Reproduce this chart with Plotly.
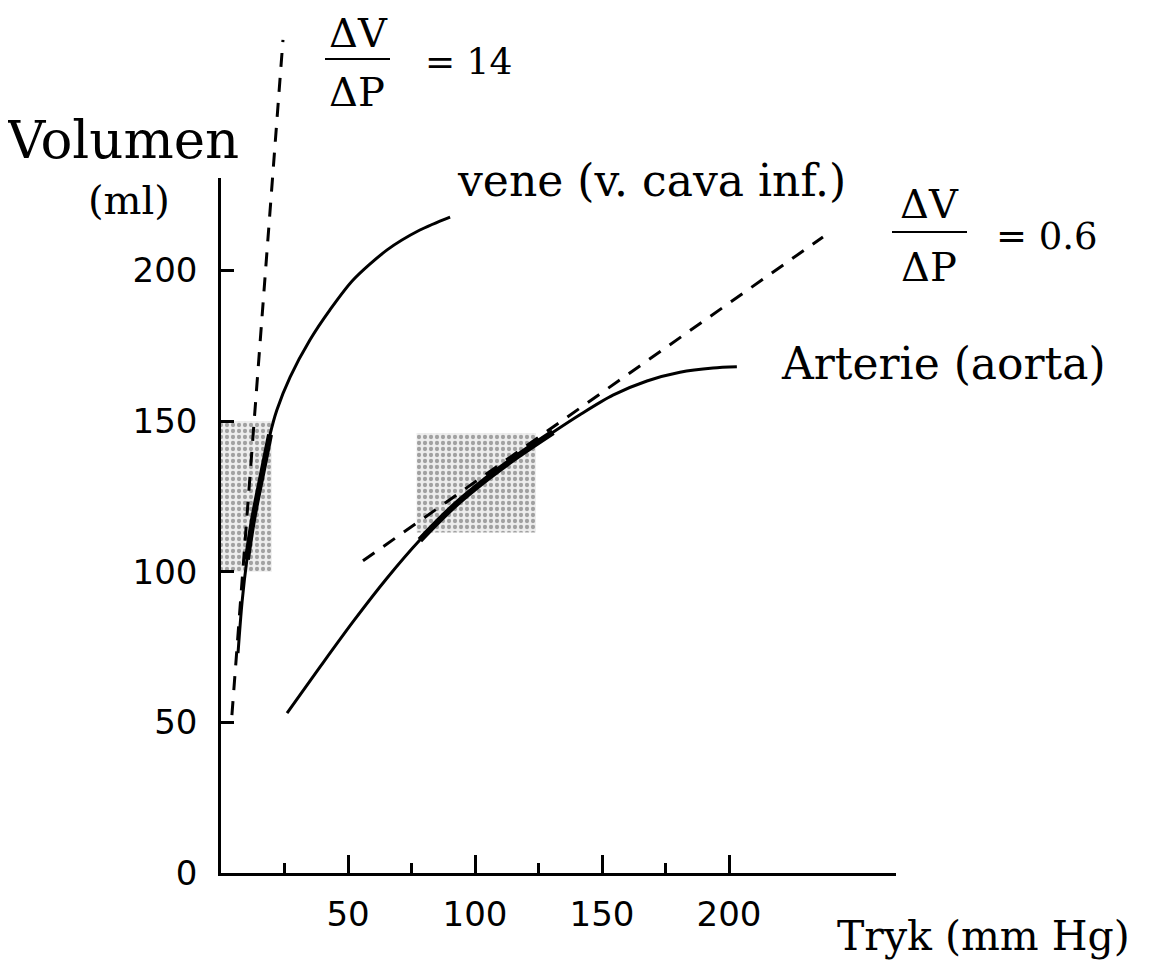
import plotly.graph_objects as go

# page is 1157x972; the html body has an 8px margin, so the figure is 16px smaller
PAGE_W, PAGE_H = 1157, 972
OFF = 8
W, H = PAGE_W - 2 * OFF, PAGE_H - 2 * OFF

# ---- data ----
vene_p = [6.7, 8.3, 10.2, 12.6, 16.5, 19.3, 22.0, 27.2, 35.0, 42.9, 52.0, 65.4, 78.3, 90.2]
vene_v = [73.0, 90.0, 104.0, 117.2, 133.8, 145.5, 153.7, 164.6, 176.9, 186.9, 196.8, 206.8, 213.4, 217.7]
arterie_p = [26.0, 39.0, 52.0, 65.4, 78.3, 91.3, 104.7, 117.3, 130.7, 141.3, 154.3, 167.7, 180.7, 193.7, 203.1]
arterie_v = [53.1, 68.4, 83.4, 97.9, 110.5, 121.5, 130.9, 138.7, 146.3, 152.1, 158.6, 163.3, 166.2, 167.6, 168.0]
vene_tangent_p = [4.3, 24.4]
vene_tangent_v = [52.4, 276.5]
arterie_tangent_p = [55.9, 237.0]
arterie_tangent_v = [103.6, 211.1]
vene_box_p = [0, 20]
vene_box_v = [100, 150]
arterie_box_p = [77, 124]
arterie_box_v = [113, 146]
x_ticks = [50, 100, 150, 200]
x_minor_ticks = [25, 75, 125, 175]
y_ticks = [0, 50, 100, 150, 200]

# ---- geometry (in page pixels) ----
X0_PX, KX = 221.0, 2.54      # page pixel of P=0, px per mmHg
Y0_PX, KY = 873.0, 3.013     # page pixel of V=0, px per ml
X_END_PX, Y_TOP_PX = 896.0, 178.0

def fx(px):  # page px -> paper x
    return (px - OFF) / W

def fy(py):  # page px -> paper y
    return 1 - (py - OFF) / H

SERIF = "DejaVu Serif"
SANS = "DejaVu Sans"
DASH = "14px,11px"

fig = go.Figure()

def box_trace(p, v, xa, ya):
    return go.Scatter(
        x=[p[0], p[1], p[1], p[0], p[0]], y=[v[0], v[0], v[1], v[1], v[0]],
        mode="lines", line=dict(width=0), fill="toself",
        fillcolor="rgba(0,0,0,0)",
        fillpattern=dict(shape=".", fgcolor="#555555", bgcolor="rgba(215,215,215,0.45)",
                         size=6, solidity=0.4),
        xaxis=xa, yaxis=ya, showlegend=False, hoverinfo="skip")

# boxes on the full-page axes (below)
fig.add_trace(box_trace(vene_box_p, vene_box_v, "x", "y"))
fig.add_trace(box_trace(arterie_box_p, arterie_box_v, "x", "y"))

# vein tangent (extends above the axes)
fig.add_trace(go.Scatter(x=vene_tangent_p, y=vene_tangent_v, mode="lines",
                         line=dict(color="black", width=3, dash=DASH),
                         xaxis="x", yaxis="y", showlegend=False, hoverinfo="skip"))

# curves on the visible axes
fig.add_trace(go.Scatter(x=vene_p, y=vene_v, mode="lines",
                         line=dict(color="black", width=3, shape="spline", smoothing=0.8),
                         xaxis="x2", yaxis="y2", name="vene", showlegend=False))
fig.add_trace(go.Scatter(x=arterie_p, y=arterie_v, mode="lines",
                         line=dict(color="black", width=3, shape="spline", smoothing=0.8),
                         xaxis="x2", yaxis="y2", name="arterie", showlegend=False))
fig.add_trace(go.Scatter(x=arterie_tangent_p, y=arterie_tangent_v, mode="lines",
                         line=dict(color="black", width=3, dash=DASH),
                         xaxis="x2", yaxis="y2", showlegend=False, hoverinfo="skip"))

# thickened parts inside the shaded boxes
tv = [(p, v) for p, v in zip(vene_p, vene_v) if vene_box_v[0] <= v <= vene_box_v[1]]
fig.add_trace(go.Scatter(x=[a for a, b in tv], y=[b for a, b in tv], mode="lines",
                         line=dict(color="black", width=6, shape="spline"),
                         xaxis="x2", yaxis="y2", showlegend=False, hoverinfo="skip"))
ta = [(p, v) for p, v in zip(arterie_p, arterie_v) if 78 <= p <= 131]
fig.add_trace(go.Scatter(x=[a for a, b in ta], y=[b for a, b in ta], mode="lines",
                         line=dict(color="black", width=6, shape="spline"),
                         xaxis="x2", yaxis="y2", showlegend=False, hoverinfo="skip"))

# full-figure axes, same scale as the visible axes
x_lo = -(X0_PX - OFF) / KX
x_hi = (OFF + W - X0_PX) / KX
y_hi = (Y0_PX - OFF) / KY
y_lo = -(OFF + H - Y0_PX) / KY

fig.update_layout(
    width=W, height=H,
    margin=dict(l=0, r=0, t=0, b=0, autoexpand=False),
    showlegend=False,
    paper_bgcolor="white", plot_bgcolor="rgba(0,0,0,0)",
    xaxis=dict(domain=[0, 1], range=[x_lo, x_hi], visible=False, fixedrange=True),
    yaxis=dict(domain=[0, 1], range=[y_lo, y_hi], visible=False, fixedrange=True),
    xaxis2=dict(domain=[fx(X0_PX), fx(X_END_PX)], range=[0, (X_END_PX - X0_PX) / KX],
                anchor="y2", showline=True, linecolor="black", linewidth=2.5,
                showgrid=False, zeroline=False, automargin=False,
                tickmode="array", tickvals=x_ticks, ticktext=[str(t) for t in x_ticks],
                ticks="inside", ticklen=18, tickwidth=2.5, tickcolor="black",
                minor=dict(tickmode="array", tickvals=x_minor_ticks, ticks="inside",
                           ticklen=10, tickwidth=2.5, tickcolor="black", showgrid=False),
                tickfont=dict(family=SANS, size=34, color="black"),
                ticklabelstandoff=9),
    yaxis2=dict(domain=[fy(Y0_PX), fy(Y_TOP_PX)],
                range=[0, (Y0_PX - Y_TOP_PX) / KY],
                anchor="x2", showline=True, linecolor="black", linewidth=2.5,
                showgrid=False, zeroline=False, automargin=False,
                tickmode="array", tickvals=y_ticks, ticktext=[str(t) for t in y_ticks],
                ticks="inside", ticklen=13, tickwidth=2.5, tickcolor="black",
                tickfont=dict(family=SANS, size=34, color="black"),
                ticklabelstandoff=14),
)

def ann(text, px, py, size, xanchor="center", family=SERIF):
    fig.add_annotation(text=text, x=fx(px), y=fy(py), xref="paper", yref="paper",
                       xanchor=xanchor, yanchor="middle", showarrow=False,
                       font=dict(family=family, size=size, color="black"))

ann("Volumen", 122, 140, 53)
ann("(ml)", 129, 200, 40)
ann("vene (v. cava inf.)", 455, 181, 44, xanchor="left")
ann("Arterie (aorta)", 779, 363, 44, xanchor="left")
ann("Tryk (mm Hg)", 835, 936, 41, xanchor="left")

# fraction 1
ann("ΔV", 358, 33, 40)
ann("ΔP", 357, 92, 40)
ann("= 14", 423, 62, 36, xanchor="left")
# fraction 2
ann("ΔV", 929, 204, 40)
ann("ΔP", 929, 267, 40)
ann("= 0.6", 994, 236, 37, xanchor="left")

for x0, x1, y in [(325, 390, 59), (892, 967, 232)]:
    fig.add_shape(type="line", xref="paper", yref="paper",
                  x0=fx(x0), x1=fx(x1), y0=fy(y), y1=fy(y),
                  line=dict(color="black", width=2))

fig.write_html("out.html")
